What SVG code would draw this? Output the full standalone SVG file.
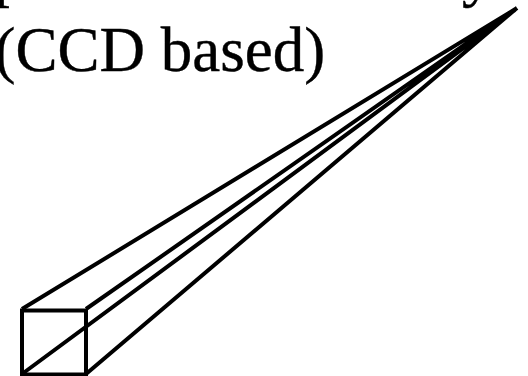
<svg xmlns="http://www.w3.org/2000/svg" width="528" height="376" viewBox="0 0 528 376">
<style>
.t{font-family:"Liberation Serif","Times New Roman",serif;font-size:63px;fill:#000;stroke:#000;stroke-width:.4}
.l{fill:none;stroke:#000;stroke-width:4;stroke-linecap:butt;stroke-linejoin:miter}
</style>
<rect width="528" height="376" fill="#fff"/>
<g id="label">
<text class="t" x="-6" y="-6">p</text>
<text class="t" x="462" y="-6">y</text>
<text class="t" x="-5.5" y="70.500">(CCD based)</text>
</g>
<g id="connectors">
<path class="l" d="M22 309L517 8M86 309L517 8M22 374L515 10M86 374L517 8"/>
</g>
<g id="box">
<rect class="l" x="22" y="310.500" width="64" height="64"/>
</g>
</svg>
